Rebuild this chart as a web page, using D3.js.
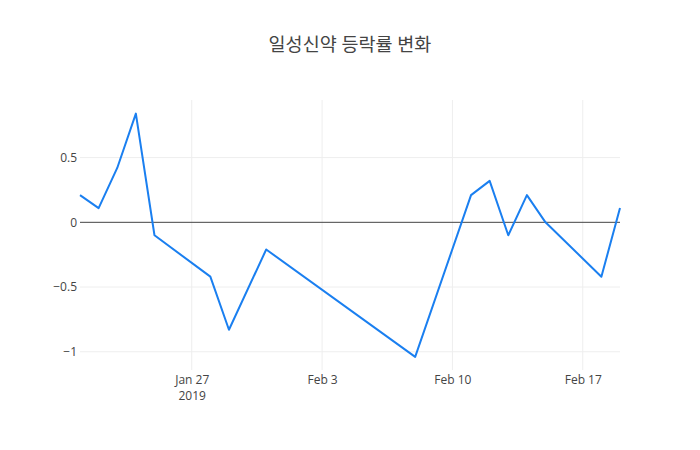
<!DOCTYPE html>
<html><head><meta charset="utf-8">
<script src="https://cdn.jsdelivr.net/npm/d3@7"></script>
<style>body{margin:0;background:#fff;}svg{display:block;}</style>
</head><body>
<script>
const titleText = "일성신약 등락률 변화";
const dates = ["2019-01-21","2019-01-22","2019-01-23","2019-01-24","2019-01-25","2019-01-28","2019-01-29","2019-01-31","2019-02-08","2019-02-11","2019-02-12","2019-02-13","2019-02-14","2019-02-15","2019-02-18","2019-02-19"];
const changes = [0.21,0.11,0.42,0.84,-0.10,-0.42,-0.83,-0.21,-1.04,0.21,0.32,-0.10,0.21,0.00,-0.42,0.11];
const yTicks = [-1,-0.5,0,0.5];
const xTickDates = ["2019-01-27","2019-02-03","2019-02-10","2019-02-17"];

const W=700,H=450,m={l:80,r:80,t:100,b:80};
const parse=d3.utcParse("%Y-%m-%d");
const data=dates.map((d,i)=>({d:parse(d),v:changes[i]}));
const svg=d3.select("body").append("svg").attr("width",W).attr("height",H);
const font="'Open Sans','Noto Sans CJK KR',sans-serif";
const x=d3.scaleUtc().domain(d3.extent(data,d=>d.d)).range([m.l,W-m.r]);
const y=d3.scaleLinear().domain([-1.141,0.945]).range([H-m.b,m.t]);
const fmtY=v=>v===0?"0":(v<0?"\u2212":"")+Math.abs(v);
// grid
svg.append("g").selectAll("line").data(yTicks.filter(v=>v!==0)).join("line")
 .attr("x1",m.l).attr("x2",W-m.r).attr("y1",d=>y(d)).attr("y2",d=>y(d))
 .attr("stroke","#eee").attr("stroke-width",1);
const xt=xTickDates.map(parse);
svg.append("g").selectAll("line").data(xt).join("line")
 .attr("x1",d=>x(d)).attr("x2",d=>x(d)).attr("y1",m.t).attr("y2",H-m.b)
 .attr("stroke","#eee").attr("stroke-width",1);
// zero line
svg.append("line").attr("x1",m.l).attr("x2",W-m.r).attr("y1",y(0)).attr("y2",y(0))
 .attr("stroke","#444").attr("stroke-width",1);
// y axis labels
const yAxis=d3.axisLeft(y).tickValues(yTicks).tickFormat(fmtY).tickSize(0).tickPadding(3);
const ga=svg.append("g").attr("transform",`translate(${m.l},0)`).call(yAxis);
ga.select(".domain").remove();
ga.selectAll("text").attr("font-family",font).attr("font-size",12).attr("fill","#444");
// x axis labels
const fmtX=d3.utcFormat("%b %-d");
const xAxis=d3.axisBottom(x).tickValues(xt).tickFormat(fmtX).tickSize(0).tickPadding(5);
const gx=svg.append("g").attr("transform",`translate(0,${H-m.b})`).call(xAxis);
gx.select(".domain").remove();
gx.selectAll("text").attr("font-family",font).attr("font-size",12).attr("fill","#444");
gx.selectAll(".tick").filter((d,i)=>i===0).append("text")
 .attr("y",21).attr("dy","0.71em").attr("text-anchor","middle")
 .attr("font-family",font).attr("font-size",12).attr("fill","#444").text("2019");
// line
svg.append("path").datum(data)
 .attr("d",d3.line().x(d=>x(d.d)).y(d=>y(d.v)))
 .attr("fill","none").attr("stroke","#1a7ff0").attr("stroke-width",2).attr("stroke-linejoin","round");
// title
svg.append("text").attr("x",W/2).attr("y",51).attr("text-anchor","middle")
 .attr("font-family",font).attr("font-size",18.5).attr("fill","#444").text(titleText);
</script>
</body></html>
